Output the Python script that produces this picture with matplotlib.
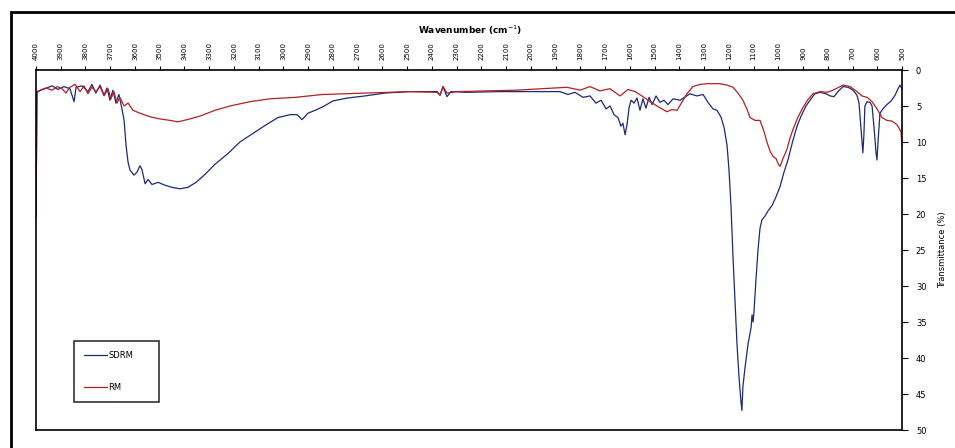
import matplotlib.pyplot as plt
from matplotlib.patches import Rectangle

# FTIR spectra, wavenumber (cm-1) vs transmittance (%)
sdrm_wn = [4000, 3996, 3964, 3935, 3911, 3887, 3863, 3846, 3838, 3814, 3790, 3774,
           3758, 3741, 3725, 3713, 3701, 3689, 3677, 3665, 3652, 3644, 3636, 3628,
           3620, 3604, 3592, 3580, 3572, 3559, 3547, 3531, 3507, 3479, 3450, 3418,
           3386, 3353, 3317, 3277, 3224, 3176, 3127, 3074, 3022, 2973, 2945, 2925,
           2901, 2872, 2840, 2800, 2743, 2670, 2589, 2488, 2379, 2367, 2355, 2339,
           2323, 2258, 2125, 1991, 1882, 1850, 1822, 1789, 1761, 1737, 1716, 1696,
           1680, 1664, 1648, 1636, 1628, 1619, 1611, 1603, 1595, 1583, 1571, 1559,
           1547, 1535, 1522, 1510, 1494, 1478, 1462, 1446, 1425, 1397, 1357, 1329,
           1304, 1284, 1264, 1248, 1232, 1219, 1207, 1199, 1191, 1183, 1175, 1167,
           1159, 1151, 1147, 1143, 1135, 1122, 1110, 1106, 1102, 1098, 1090, 1082,
           1074, 1066, 1054, 1042, 1025, 1009, 993, 977, 961, 941, 924, 908,
           888, 872, 852, 831, 807, 791, 775, 759, 738, 718, 698, 682,
           674, 666, 658, 654, 650, 641, 629, 621, 613, 605, 601, 597,
           589, 577, 561, 544, 528, 516, 508, 500]
sdrm_t = [20.0, 3.0, 2.6, 2.2, 2.7, 2.3, 2.6, 4.4, 2.4, 2.2, 3.0, 2.0,
          3.2, 2.1, 3.5, 2.5, 4.2, 2.8, 4.6, 3.4, 5.5, 7.0, 10.5, 12.8,
          13.9, 14.6, 14.2, 13.3, 13.8, 15.8, 15.2, 15.9, 15.6, 16.0, 16.3, 16.5,
          16.3, 15.6, 14.5, 13.1, 11.6, 10.0, 8.9, 7.7, 6.6, 6.2, 6.2, 6.9,
          6.0, 5.6, 5.1, 4.3, 3.9, 3.6, 3.2, 3.0, 3.0, 3.5, 2.3, 3.7,
          3.0, 3.1, 3.0, 3.0, 3.0, 3.4, 3.1, 3.8, 3.6, 4.6, 4.2, 5.4,
          5.0, 6.2, 6.6, 7.8, 7.4, 9.0, 7.5, 5.2, 4.2, 4.6, 3.9, 5.6,
          4.0, 5.3, 3.8, 4.8, 3.6, 4.5, 4.2, 4.8, 4.0, 4.2, 3.3, 3.6,
          3.4, 4.5, 5.4, 5.6, 6.5, 8.0, 10.5, 14.0, 19.0, 26.0, 32.0, 38.0,
          42.5, 46.0, 47.3, 44.0, 41.5, 38.0, 35.8, 34.0, 35.0, 33.5, 29.0, 25.0,
          22.0, 20.8, 20.3, 19.6, 18.8, 17.6, 16.2, 14.2, 12.5, 9.8, 7.8, 6.4,
          5.0, 4.2, 3.3, 3.1, 3.3, 3.6, 3.7, 3.0, 2.3, 2.4, 2.8, 3.5,
          4.5, 8.0, 11.5, 9.0, 5.0, 4.4, 4.5, 5.0, 8.0, 11.5, 12.5, 10.0,
          6.0, 5.4, 4.8, 4.3, 3.5, 2.6, 2.1, 2.6]

rm_wn = [4000, 3996, 3984, 3960, 3935, 3915, 3895, 3879, 3863, 3842, 3822, 3806,
         3790, 3774, 3758, 3741, 3725, 3709, 3697, 3685, 3673, 3661, 3644, 3628,
         3608, 3580, 3539, 3499, 3458, 3426, 3378, 3337, 3277, 3216, 3135, 3054,
         2953, 2840, 2662, 2488, 2379, 2367, 2355, 2339, 2298, 2056, 1854, 1801,
         1761, 1721, 1680, 1640, 1607, 1579, 1547, 1518, 1490, 1470, 1450, 1430,
         1409, 1385, 1369, 1345, 1316, 1288, 1256, 1236, 1207, 1183, 1163, 1143,
         1126, 1114, 1094, 1074, 1058, 1046, 1033, 1021, 1009, 1001, 993, 981,
         965, 953, 941, 920, 900, 880, 860, 831, 803, 779, 738, 710,
         682, 662, 641, 621, 601, 581, 561, 540, 520, 504, 500]
rm_t = [20.5, 3.2, 2.8, 2.5, 2.8, 2.3, 2.6, 3.2, 2.4, 2.0, 3.0, 2.2,
        3.3, 2.4, 3.0, 2.3, 3.6, 2.6, 4.0, 3.0, 4.6, 3.8, 5.0, 4.6,
        5.6, 6.0, 6.5, 6.8, 7.0, 7.2, 6.8, 6.4, 5.6, 5.0, 4.4, 4.0,
        3.8, 3.4, 3.2, 3.0, 3.1, 3.5, 2.3, 3.2, 3.0, 2.8, 2.4, 2.8,
        2.3, 2.9, 2.6, 3.6, 2.7, 3.0, 3.7, 4.4, 5.0, 5.4, 5.8, 5.5,
        5.6, 4.2, 3.3, 2.3, 2.0, 1.9, 1.9, 1.9, 2.1, 2.4, 3.2, 4.2,
        5.5, 6.6, 7.0, 7.0, 8.5, 10.0, 11.3, 12.0, 12.3, 13.0, 13.4, 12.3,
        11.0, 9.5, 8.3, 6.5, 5.2, 4.1, 3.3, 3.0, 3.1, 2.8, 2.1, 2.3,
        3.0, 3.6, 3.8, 4.4, 5.4, 6.6, 7.0, 7.1, 7.6, 8.6, 10.5]

wn_ticks = list(range(4000, 499, -100))
t_ticks = list(range(0, 51, 5))

fig = plt.figure(figsize=(9.55, 4.48), dpi=100)
ax = fig.add_axes([36 / 955, 18 / 448, 866 / 955, 360 / 448])

ax.plot(sdrm_wn, sdrm_t, color='#1b2a78', lw=0.9, label='SDRM')
ax.plot(rm_wn, rm_t, color='#b42020', lw=0.9, label='RM')

ax.set_xlim(4000, 500)
ax.set_ylim(50, 0)
ax.xaxis.tick_top()
ax.yaxis.tick_right()
ax.set_xticks(wn_ticks)
ax.set_xticklabels([str(w) for w in wn_ticks], rotation=90, fontsize=5)
ax.set_yticks(t_ticks)
ax.set_yticklabels([str(t) for t in t_ticks], fontsize=6)
ax.tick_params(axis='x', direction='out', length=3, width=0.8, pad=4)
ax.tick_params(axis='y', direction='out', length=4, width=0.8, pad=6)
for s in ax.spines.values():
    s.set_linewidth(1.2)

ax.yaxis.set_label_position('right')
ax.set_ylabel('Transmittance (%)', fontsize=6, labelpad=8)
fig.text(470 / 955, 1 - 30 / 448, 'Wavenumber (cm$^{-1}$)', fontsize=6.5,
         fontweight='semibold', ha='center', va='center')

leg = ax.legend(loc='lower left', bbox_to_anchor=(0.044, 0.078, 0.098, 0.17),
                mode='expand', fontsize=6, frameon=True, fancybox=False,
                borderaxespad=0, labelspacing=2.8, borderpad=1.2,
                handlelength=2.8, handletextpad=0.1)
leg.get_frame().set_edgecolor('black')
leg.get_frame().set_linewidth(1.2)

# outer border around the whole chart
fig.patches.append(Rectangle((11 / 955, -0.05), 1.0, 1.05 - 12 / 448 + 0.0,
                             transform=fig.transFigure, fill=False,
                             edgecolor='black', lw=2))

fig.savefig('out.png', dpi=100)
